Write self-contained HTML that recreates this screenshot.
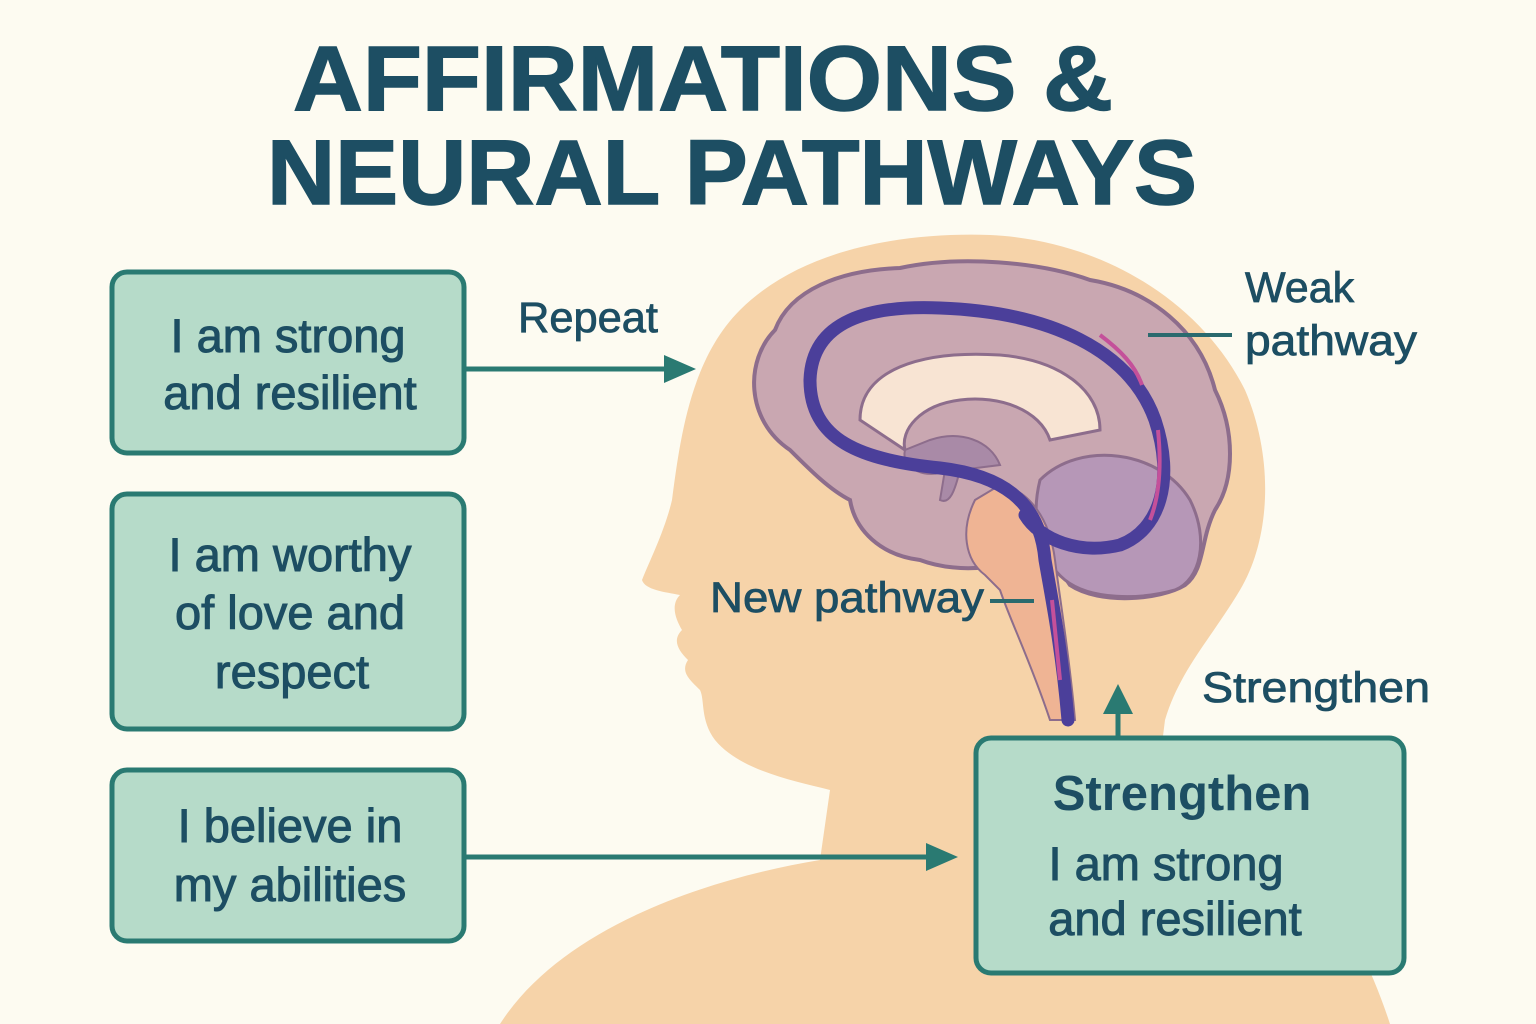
<!DOCTYPE html>
<html><head><meta charset="utf-8"><style>
html,body{margin:0;padding:0;background:#fdfbf1;}
svg{display:block}
text{font-family:"Liberation Sans",sans-serif;fill:#1d4e63}
</style></head><body>
<svg width="1536" height="1024" viewBox="0 0 1536 1024" xmlns="http://www.w3.org/2000/svg">
<rect width="1536" height="1024" fill="#fdfbf1"/>
<text x="703" y="110" font-size="92" font-weight="bold" text-anchor="middle" textLength="820" lengthAdjust="spacingAndGlyphs" stroke="#1d4e63" stroke-width="1.5">AFFIRMATIONS &amp;</text>
<text x="732" y="204" font-size="92" font-weight="bold" text-anchor="middle" textLength="930" lengthAdjust="spacingAndGlyphs" stroke="#1d4e63" stroke-width="1.5">NEURAL PATHWAYS</text>

<path d="M500,1024 C560,930 700,880 820,860 L830,790 C790,780 740,770 715,740 C700,720 705,700 700,690 C690,680 680,672 688,660 C678,650 672,640 682,630 C676,620 670,605 680,595 C665,592 645,590 642,580 C650,560 665,530 672,500 C680,440 690,360 740,310 C800,250 900,232 990,235 C1100,240 1200,300 1245,390 C1275,460 1270,540 1240,590 C1210,640 1180,670 1165,720 L1160,760 C1250,800 1340,870 1390,1024 Z" fill="#f6d3a9"/>

<path d="M790,450 C745,420 745,360 775,330 C790,290 840,270 900,268 C960,255 1040,262 1090,280 C1150,290 1200,330 1215,390 C1235,430 1235,480 1215,510 C1200,540 1205,570 1185,585 C1160,600 1100,605 1070,585 L1040,540 C1020,570 960,575 920,560 C880,555 855,530 850,500 C830,490 810,470 790,450 Z" fill="#c9a7b1" stroke="#8d6d8c" stroke-width="4"/>
<path d="M1040,480 C1080,440 1160,450 1190,500 C1210,540 1200,580 1175,590 C1140,600 1090,600 1065,580 C1040,560 1030,520 1040,480 Z" fill="#b697b7" stroke="#8d6d8c" stroke-width="3"/>
<path d="M860,420 C860,370 920,350 1000,355 C1060,360 1100,390 1100,430 L1050,440 C1040,410 1000,395 960,400 C920,405 900,430 905,450 Z" fill="#f8e4d3" stroke="#8d6d8c" stroke-width="3"/>
<path d="M905,450 C900,470 930,480 945,470 L940,500 C950,505 955,490 960,470 L1000,465 C990,440 960,430 930,440 Z" fill="#a98aa7" stroke="#8d6d8c" stroke-width="2"/>
<path d="M975,500 C960,530 965,560 985,575 L1000,590 C1010,620 1030,660 1050,720 L1075,720 C1070,660 1060,600 1055,560 C1050,520 1030,490 1000,485 Z" fill="#efb494" stroke="#8d6d8c" stroke-width="2"/>

<path d="M1068,720 C1062,650 1052,600 1045,560 C1040,500 1000,475 940,468 C860,460 810,440 810,380 C812,320 870,305 940,308 C1050,312 1130,350 1155,420 C1175,480 1160,530 1120,545 C1080,555 1040,540 1025,515" fill="none" stroke="#4b3f9a" stroke-width="13" stroke-linecap="round"/>
<path d="M1100,335 C1120,350 1135,365 1142,385" fill="none" stroke="#c4509a" stroke-width="4"/>
<path d="M1158,430 C1162,470 1158,500 1150,520" fill="none" stroke="#c4509a" stroke-width="4"/>
<path d="M1052,600 L1060,680" fill="none" stroke="#c4509a" stroke-width="4"/>

<line x1="1148" y1="335" x2="1232" y2="335" stroke="#2a6a6e" stroke-width="4"/>
<line x1="990" y1="601" x2="1034" y2="601" stroke="#2a6a6e" stroke-width="4"/>

<g fill="#b6dbc9" stroke="#2a7a72" stroke-width="5">
<rect x="112" y="272" width="352" height="181" rx="15"/>
<rect x="112" y="494" width="352" height="235" rx="15"/>
<rect x="112" y="770" width="352" height="171" rx="15"/>
<rect x="976" y="738" width="428" height="235" rx="15"/>
</g>
<g font-size="47" text-anchor="middle" stroke="#1d4e63" stroke-width="1">
<text x="288" y="352">I am strong</text>
<text x="290" y="409">and resilient</text>
<text x="290" y="571">I am worthy</text>
<text x="290" y="629">of love and</text>
<text x="292" y="688">respect</text>
<text x="290" y="842">I believe in</text>
<text x="290" y="901">my abilities</text>
<text x="1166" y="880">I am strong</text>
<text x="1175" y="935">and resilient</text>
</g>
<text x="1182" y="810" font-size="49" font-weight="bold" text-anchor="middle">Strengthen</text>

<g font-size="43" stroke="#1d4e63" stroke-width="0.8">
<text x="518" y="332" textLength="140" lengthAdjust="spacingAndGlyphs">Repeat</text>
<text x="1245" y="302">Weak</text>
<text x="1245" y="355" textLength="172" lengthAdjust="spacingAndGlyphs">pathway</text>
<text x="710" y="612" textLength="274" lengthAdjust="spacingAndGlyphs">New pathway</text>
<text x="1202" y="702" textLength="228" lengthAdjust="spacingAndGlyphs">Strengthen</text>
</g>

<g stroke="#2a7a72" stroke-width="5" fill="#2a7a72">
<line x1="464" y1="369" x2="670" y2="369"/>
<line x1="464" y1="857" x2="930" y2="857"/>
<line x1="1118" y1="738" x2="1118" y2="708"/>
</g>
<g fill="#2a7a72">
<polygon points="696,369 664,355 664,383"/>
<polygon points="958,857 926,843 926,871"/>
<polygon points="1118,684 1103,714 1133,714"/>
</g>
</svg>
</body></html>
